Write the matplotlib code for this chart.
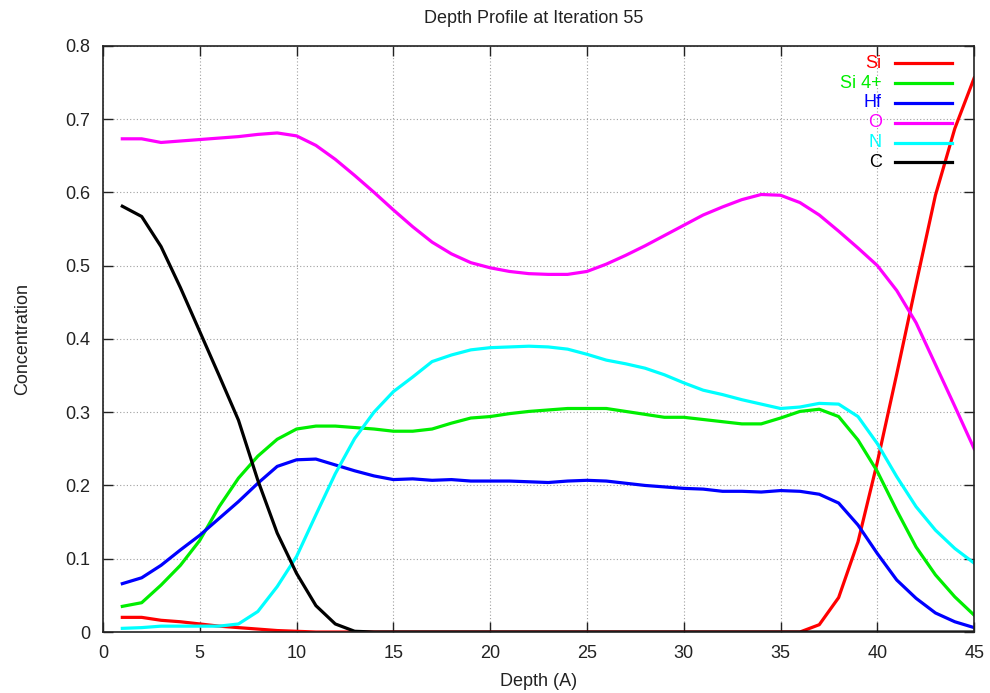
import numpy as np
from matplotlib import pyplot as plt

plt.rcParams['font.family'] = ['Liberation Sans', 'DejaVu Sans']

depth = np.arange(1, 46)

si = [0.020, 0.020, 0.016, 0.014, 0.011, 0.008, 0.006, 0.004, 0.002, 0.001,
      0.0, 0.0, 0.0, 0.0, 0.0, 0.0, 0.0, 0.0, 0.0, 0.0,
      0.0, 0.0, 0.0, 0.0, 0.0, 0.0, 0.0, 0.0, 0.0, 0.0,
      0.0, 0.0, 0.0, 0.0, 0.0, 0.0, 0.010, 0.047, 0.123, 0.232,
      0.352, 0.475, 0.596, 0.687, 0.756]

si4 = [0.035, 0.040, 0.064, 0.091, 0.125, 0.171, 0.210, 0.240, 0.263, 0.277,
       0.281, 0.281, 0.279, 0.277, 0.274, 0.274, 0.277, 0.285, 0.292, 0.294,
       0.298, 0.301, 0.303, 0.305, 0.305, 0.305, 0.301, 0.297, 0.293, 0.293,
       0.290, 0.287, 0.284, 0.284, 0.292, 0.301, 0.304, 0.294, 0.262, 0.219,
       0.166, 0.116, 0.078, 0.048, 0.023]

hf = [0.066, 0.074, 0.091, 0.112, 0.132, 0.155, 0.178, 0.203, 0.226, 0.235,
      0.236, 0.228, 0.220, 0.213, 0.208, 0.209, 0.207, 0.208, 0.206, 0.206,
      0.206, 0.205, 0.204, 0.206, 0.207, 0.206, 0.203, 0.200, 0.198, 0.196,
      0.195, 0.192, 0.192, 0.191, 0.193, 0.192, 0.188, 0.176, 0.146, 0.107,
      0.071, 0.046, 0.026, 0.014, 0.006]

o = [0.673, 0.673, 0.668, 0.670, 0.672, 0.674, 0.676, 0.679, 0.681, 0.677,
     0.664, 0.645, 0.623, 0.600, 0.576, 0.553, 0.532, 0.516, 0.504, 0.497,
     0.492, 0.489, 0.488, 0.488, 0.492, 0.502, 0.514, 0.527, 0.541, 0.555,
     0.569, 0.580, 0.590, 0.597, 0.596, 0.586, 0.569, 0.547, 0.524, 0.500,
     0.466, 0.422, 0.365, 0.308, 0.250]

n = [0.005, 0.006, 0.008, 0.008, 0.008, 0.008, 0.011, 0.028, 0.062, 0.103,
     0.160, 0.216, 0.264, 0.300, 0.328, 0.348, 0.369, 0.378, 0.385, 0.388,
     0.389, 0.390, 0.389, 0.386, 0.379, 0.371, 0.366, 0.360, 0.351, 0.340,
     0.330, 0.324, 0.317, 0.311, 0.305, 0.307, 0.312, 0.311, 0.294, 0.257,
     0.212, 0.171, 0.139, 0.114, 0.094]

c = [0.581, 0.567, 0.526, 0.470, 0.410, 0.350, 0.289, 0.207, 0.135, 0.080,
     0.036, 0.011, 0.001, 0.0, 0.0, 0.0, 0.0, 0.0, 0.0, 0.0,
     0.0, 0.0, 0.0, 0.0, 0.0, 0.0, 0.0, 0.0, 0.0, 0.0,
     0.0, 0.0, 0.0, 0.0, 0.0, 0.0, 0.0, 0.0, 0.0, 0.0,
     0.0, 0.0, 0.0, 0.0, 0.0]

names = ['Si', 'Si 4+', 'Hf', 'O', 'N', 'C']
colors = ['#ff0000', '#00ee00', '#0000ff', '#ff00ff', '#00ffff', '#000000']
series = [si, si4, hf, o, n, c]

FS = 13


def main():
    fig = plt.figure(figsize=(9.9, 6.93), dpi=100)
    ax = fig.add_axes([0.104, 0.088, 0.880, 0.846])

    for y, col in zip(series, colors):
        ax.plot(depth, y, color=col, lw=2.3, solid_joinstyle='round')

    ax.set_xlim(0, 45)
    ax.set_ylim(0, 0.8)
    ax.set_xticks(np.arange(0, 46, 5))
    ax.set_yticks(np.arange(0, 0.81, 0.1))
    ax.set_yticklabels(['0'] + ['%.1f' % v for v in np.arange(0.1, 0.81, 0.1)])
    ax.grid(True, color='#a0a0a0', linestyle=(0, (1, 2)), lw=0.8)
    ax.tick_params(direction='in', top=True, right=True, length=7, width=1,
                   labelsize=FS, colors='#222222')
    ax.tick_params(axis='y', pad=9)
    ax.tick_params(axis='x', pad=9)
    for s in ax.spines.values():
        s.set_linewidth(1.2)
        s.set_color('#222222')

    ax.set_xlabel('Depth (A)', fontsize=FS, color='#222222')
    ax.set_ylabel('Concentration', fontsize=FS, color='#222222')
    ax.xaxis.set_label_coords(0.5, -0.0836)
    ax.yaxis.set_label_coords(-0.092, 0.5)
    ax.xaxis.label.set_va('center')
    ax.yaxis.label.set_va('center')
    fig.text(0.539, 0.974, 'Depth Profile at Iteration 55', fontsize=FS,
             ha='center', va='center', color='#222222')

    # legend, gnuplot style: text right-aligned, sample line to the right
    y0 = 0.970
    dy = 0.0338
    for i, (name, col) in enumerate(zip(names, colors)):
        yy = y0 - i * dy
        ax.text(0.894, yy, name, color=col, fontsize=FS, ha='right',
                va='center', transform=ax.transAxes)
        ax.plot([0.909, 0.974], [yy, yy], color=col, lw=2.3,
                transform=ax.transAxes, clip_on=False)

    plt.savefig('out.png', dpi=100)


if __name__ == '__main__':
    main()
